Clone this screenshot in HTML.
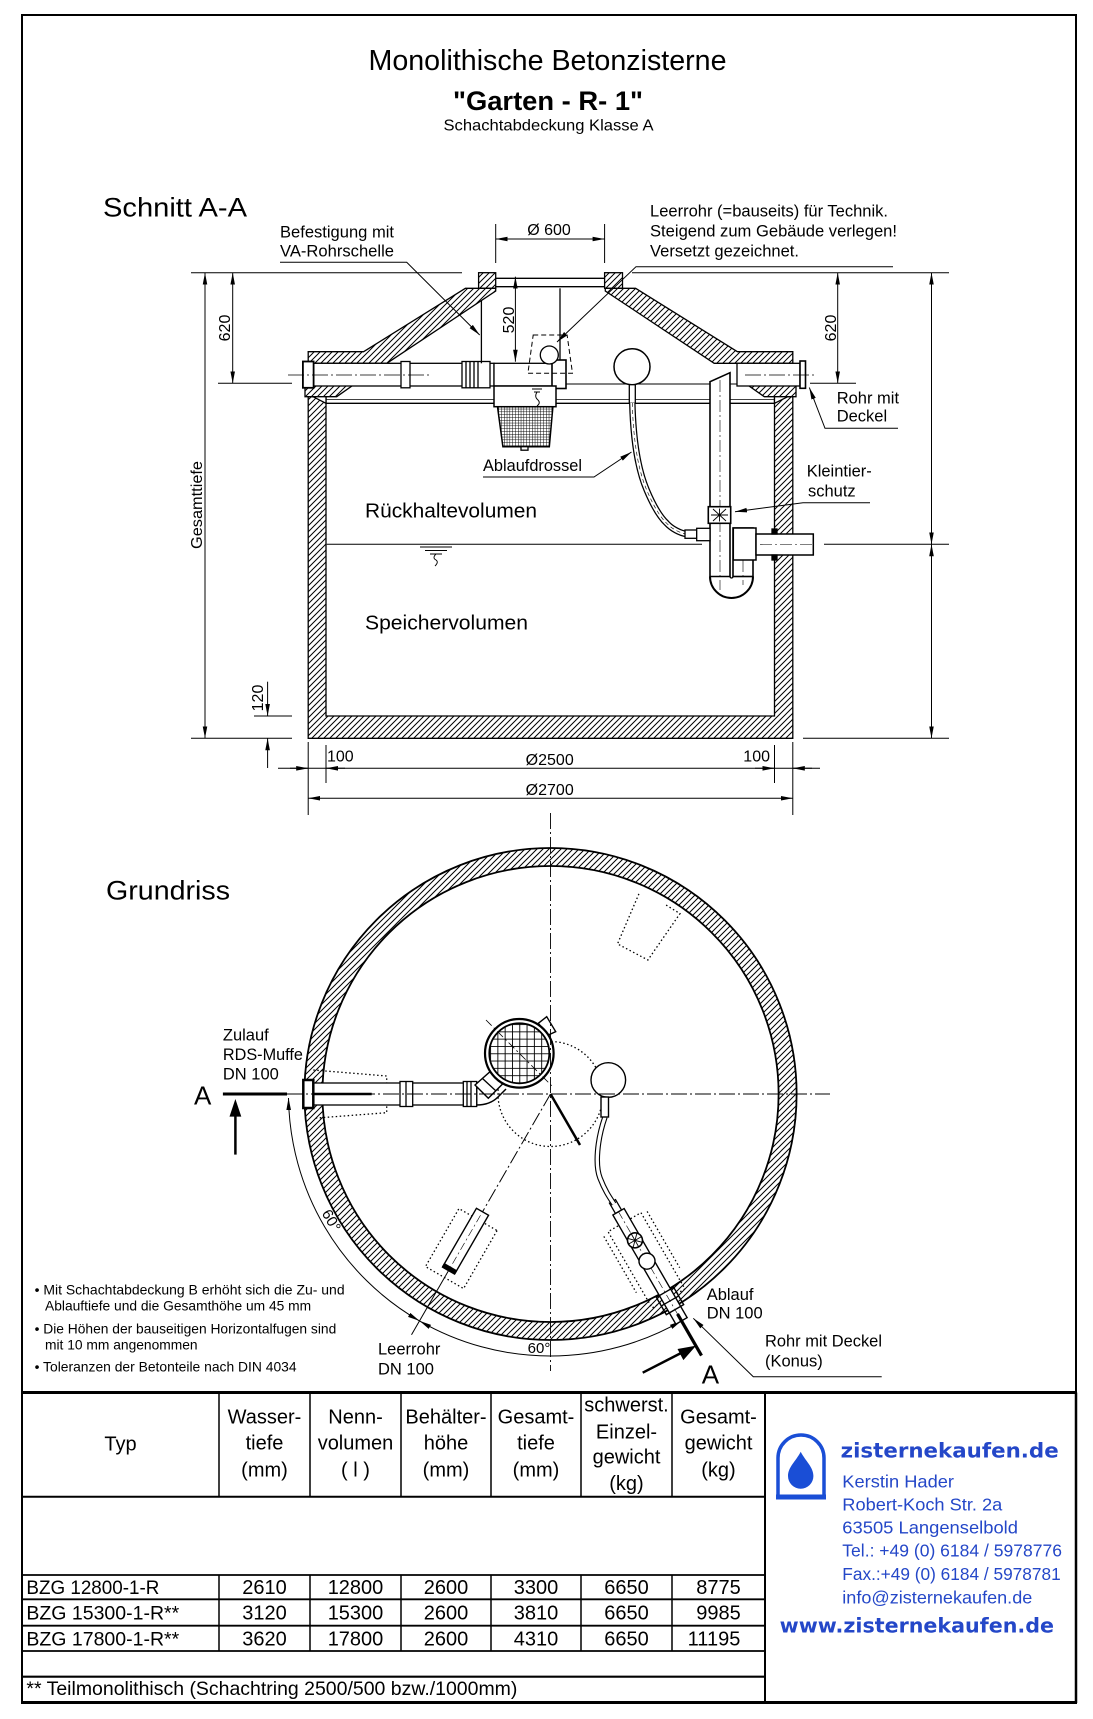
<!DOCTYPE html>
<html><head><meta charset="utf-8"><style>html,body{margin:0;padding:0;background:#fff}svg{display:block}</style></head>
<body>
<svg xmlns="http://www.w3.org/2000/svg" width="1093" height="1719" viewBox="0 0 1093 1719" font-family="'Liberation Sans', Arial, sans-serif" fill="#000">
<defs>
<pattern id="h" patternUnits="userSpaceOnUse" width="6" height="6"><path d="M0,6 L6,0 M-1,1 L1,-1 M5,7 L7,5" stroke="#000" stroke-width="1"/></pattern>
<pattern id="g1" patternUnits="userSpaceOnUse" width="2.8" height="2.8"><path d="M0,0 H2.8 M0,0 V2.8" stroke="#000" stroke-width="0.95"/></pattern>
<pattern id="g2" patternUnits="userSpaceOnUse" x="519.3" y="1053.3" width="7.3" height="7.3"><path d="M0,0 H7.3 M0,0 V7.3" stroke="#000" stroke-width="1.8"/></pattern>
<marker id="a" viewBox="0 0 12 6" refX="12" refY="3" markerWidth="12" markerHeight="6" markerUnits="userSpaceOnUse" orient="auto-start-reverse"><path d="M0,0.7 L12,3 L0,5.3 Z" fill="#000"/></marker>
</defs>

<!-- page border -->
<rect x="22" y="15" width="1054" height="1688" fill="none" stroke="#000" stroke-width="2"/>

<!-- titles -->
<text x="547.5" y="70" font-size="28.5" text-anchor="middle" textLength="358" lengthAdjust="spacingAndGlyphs">Monolithische Betonzisterne</text>
<text x="548" y="110" font-size="27" font-weight="bold" text-anchor="middle" textLength="190" lengthAdjust="spacingAndGlyphs">"Garten - R- 1"</text>
<text x="548.5" y="130.7" font-size="16" text-anchor="middle" textLength="210" lengthAdjust="spacingAndGlyphs">Schachtabdeckung Klasse A</text>
<text x="103" y="216.7" font-size="27" textLength="144" lengthAdjust="spacingAndGlyphs">Schnitt A-A</text>

<!-- ============ SECTION ============ -->
<g stroke="#000" stroke-width="1.3">
<rect x="478.6" y="272.7" width="17.1" height="15.6" fill="url(#h)"/>
<rect x="604.6" y="272.7" width="17.9" height="15.6" fill="url(#h)"/>
<line x1="495.7" y1="278.3" x2="604.6" y2="278.3"/>
<line x1="495.7" y1="286.7" x2="604.6" y2="286.7"/>
<polygon points="465.4,288.3 495.7,288.3 495.7,291 386.8,363.3 308.2,363.3 308.2,351.7 363.6,351.7" fill="url(#h)"/>
<polygon points="635.6,288.3 605.3,288.3 605.3,291 714.2,363.3 792.8,363.3 792.8,351.7 737.4,351.7" fill="url(#h)"/>
<polygon points="305,385 353.3,385 336.7,396.7 305,396.7" fill="url(#h)"/>
<polygon points="796,385 747.7,385 764.3,396.7 796,396.7" fill="url(#h)"/>
<polygon points="308.2,396.7 326,396.7 326,716 774.5,716 774.5,396.7 792.8,396.7 792.8,738.3 308.2,738.3" fill="url(#h)"/>
<polygon points="313,396.7 326,396.7 326,403.3" fill="#fff"/>
<polygon points="787.8,396.7 774.5,396.7 774.5,403.3" fill="#fff"/>
<line x1="326" y1="399.5" x2="774.5" y2="399.5" stroke-width="0.8"/>
<line x1="326" y1="403.3" x2="774.5" y2="403.3"/>
<line x1="494" y1="384" x2="737" y2="384" stroke-width="1"/>
<rect x="302.9" y="363.3" width="191.1" height="22.7" fill="#fff"/>
<rect x="302.9" y="361.5" width="10.7" height="26.3" fill="#fff" stroke-width="1.8"/>
<rect x="401" y="361.5" width="9" height="26.3" fill="#fff"/>
<rect x="462" y="361.5" width="28" height="26.3" fill="#fff"/>
<line x1="466" y1="361.5" x2="466" y2="387.8"/>
<line x1="470" y1="361.5" x2="470" y2="387.8"/>
<line x1="474" y1="361.5" x2="474" y2="387.8"/>
<line x1="478" y1="361.5" x2="478" y2="387.8"/>
<line x1="288" y1="375" x2="430" y2="375" stroke-width="0.7" stroke-dasharray="16 3 2 3"/>
<rect x="494" y="363.3" width="62" height="22.7" fill="#fff"/>
<rect x="552" y="360" width="14" height="28.5" fill="#fff" stroke-width="1.6"/>
<rect x="494" y="386" width="62" height="20.7" fill="#fff" stroke-width="1.5"/>
<polygon points="497.5,406.7 552.9,406.7 549.3,446.7 502.9,446.7" fill="url(#g1)" stroke-width="1.5"/>
<rect x="521" y="446.7" width="7" height="3.5" fill="#fff"/>
<path d="M532,389 h10 M534,392 h6 M537,392 q-3,5 1,8 q3,3 -1,6" fill="none" stroke-width="0.9"/>
<line x1="481.4" y1="300.5" x2="481.4" y2="363.3"/>
<line x1="560" y1="288.3" x2="560" y2="360"/>
<polygon points="533.2,335 567.1,335 572.5,373.3 527.9,373.3" fill="none" stroke-dasharray="5 3" stroke-width="1"/>
<circle cx="549.3" cy="355" r="9" fill="#fff"/>
<rect x="737" y="363.3" width="63" height="22.7" fill="#fff"/>
<rect x="800" y="361" width="5.5" height="27.3" fill="#fff" stroke-width="1.6"/>
<line x1="745" y1="375" x2="815" y2="375" stroke-width="0.7" stroke-dasharray="16 3 2 3"/>
<circle cx="632" cy="366.7" r="18" fill="#fff" stroke-width="1.5"/>
<rect x="629.3" y="384.7" width="6" height="18.6" fill="#fff"/>
<path d="M632.3,403 C633,430 636,465 646.7,490 C653,505 660,517 666.7,523.3 C672,529 680,533 686,534" fill="none" stroke-width="6.5"/>
<path d="M632.3,403 C633,430 636,465 646.7,490 C653,505 660,517 666.7,523.3 C672,529 680,533 686,534" fill="none" stroke="#fff" stroke-width="4"/>
<path d="M632.3,403 C633,430 636,465 646.7,490 C653,505 660,517 666.7,523.3 C672,529 680,533 686,534" fill="none" stroke-width="0.6" stroke-dasharray="4 3"/>
<polygon points="710,381.7 730,372.7 730,576.5 710,576.5" fill="#fff" stroke-width="1.6"/>
<line x1="720" y1="380" x2="720" y2="590" stroke-width="0.6" stroke-dasharray="12 3 2 3"/>
<rect x="733" y="528" width="20" height="48.5" fill="#fff" stroke-width="1.6"/>
<path d="M710,576.5 A21.5,21.5 0 0 0 753,576.5" fill="none" stroke-width="2"/>
<path d="M730,576.5 A1.5,1.5 0 0 0 733,576.5" fill="none"/>
<line x1="743" y1="540" x2="743" y2="585" stroke-width="0.6" stroke-dasharray="12 3 2 3"/>
<rect x="708.3" y="506.7" width="22.4" height="16.6" fill="#fff" stroke-width="1.6"/>
<path d="M711,515 h17 M719.5,508.5 v13 M713,509 l13,12 M726,509 l-13,12" stroke-width="0.9"/>
<rect x="685" y="530" width="11.7" height="8.3" fill="#fff"/>
<rect x="696.7" y="528.3" width="13.3" height="12.4" fill="#fff"/>
<rect x="733.3" y="528" width="22.7" height="32" fill="#fff" stroke-width="1.5"/>
<rect x="756" y="534" width="57.3" height="21" fill="#fff" stroke-width="1.5"/>
<rect x="772" y="529" width="5" height="5" fill="#000"/>
<rect x="772" y="555" width="5" height="5" fill="#000"/>
<line x1="760" y1="544.5" x2="813" y2="544.5" stroke-width="0.6" stroke-dasharray="12 3 2 3"/>
<line x1="326.7" y1="544.3" x2="702" y2="544.3" stroke-width="1"/>
<path d="M420,547 h32 M425,550.5 h22 M430,554 h12 M436,554 q-4,4 0,6 q3,2 -1,6" fill="none" stroke-width="0.9"/>
</g>

<g stroke="#000" stroke-width="1" fill="none">
<line x1="191" y1="272.7" x2="462" y2="272.7"/>
<line x1="632" y1="272.7" x2="949" y2="272.7"/>
<line x1="495.7" y1="224" x2="495.7" y2="263"/>
<line x1="604.6" y1="224" x2="604.6" y2="263"/>
<line x1="495.7" y1="239" x2="604.6" y2="239" marker-start="url(#a)" marker-end="url(#a)"/>
<line x1="515.4" y1="276.7" x2="515.4" y2="361.7" marker-start="url(#a)" marker-end="url(#a)"/>
<line x1="205" y1="272.7" x2="205" y2="738.3" marker-start="url(#a)" marker-end="url(#a)"/>
<line x1="232.7" y1="272.7" x2="232.7" y2="383.3" marker-start="url(#a)" marker-end="url(#a)"/>
<line x1="218" y1="383.3" x2="292" y2="383.3"/>
<line x1="254" y1="716" x2="292" y2="716"/>
<line x1="191" y1="738.3" x2="292" y2="738.3"/>
<line x1="267.6" y1="681.7" x2="267.6" y2="716" marker-end="url(#a)"/>
<line x1="267.6" y1="768" x2="267.6" y2="738.3" marker-end="url(#a)"/>
<line x1="837.7" y1="272.7" x2="837.7" y2="383.3" marker-start="url(#a)" marker-end="url(#a)"/>
<line x1="810" y1="383.3" x2="856" y2="383.3"/>
<line x1="931.5" y1="272.7" x2="931.5" y2="544.3" marker-start="url(#a)" marker-end="url(#a)"/>
<line x1="931.5" y1="544.3" x2="931.5" y2="738.3" marker-start="url(#a)" marker-end="url(#a)"/>
<line x1="824" y1="544.3" x2="949" y2="544.3"/>
<line x1="803" y1="738.3" x2="949" y2="738.3"/>
<line x1="308.2" y1="742" x2="308.2" y2="815"/>
<line x1="792.8" y1="742" x2="792.8" y2="815"/>
<line x1="326" y1="745" x2="326" y2="783"/>
<line x1="774.5" y1="745" x2="774.5" y2="783"/>
<line x1="278" y1="768.3" x2="820" y2="768.3"/>
<line x1="290" y1="768.3" x2="308.2" y2="768.3" marker-end="url(#a)"/>
<line x1="345" y1="768.3" x2="326" y2="768.3" marker-end="url(#a)"/>
<line x1="755" y1="768.3" x2="774.5" y2="768.3" marker-end="url(#a)"/>
<line x1="812" y1="768.3" x2="792.8" y2="768.3" marker-end="url(#a)"/>
<line x1="308.2" y1="798.3" x2="792.8" y2="798.3" marker-start="url(#a)" marker-end="url(#a)"/>
<polyline points="280,262.3 406.7,262.3 479.7,335" marker-end="url(#a)"/>
<polyline points="893,266.7 636,266.7 557,342" marker-end="url(#a)"/>
<polyline points="898,428.3 825,428.3 809.3,387.5" marker-end="url(#a)"/>
<polyline points="483,477 594,477 631.5,452" marker-end="url(#a)"/>
<polyline points="870,502.7 803,502.7 735,511.7" marker-end="url(#a)"/>
</g>

<g font-size="16.5">
<text x="280" y="237.3" textLength="114" lengthAdjust="spacingAndGlyphs">Befestigung mit</text>
<text x="280" y="256.7" textLength="114" lengthAdjust="spacingAndGlyphs">VA-Rohrschelle</text>
<text x="549" y="235" text-anchor="middle" font-size="16">Ø 600</text>
<text x="650" y="216.7" textLength="238" lengthAdjust="spacingAndGlyphs">Leerrohr (=bauseits) für Technik.</text>
<text x="650" y="236.7" textLength="247" lengthAdjust="spacingAndGlyphs">Steigend zum Gebäude verlegen!</text>
<text x="650" y="256.7" textLength="149" lengthAdjust="spacingAndGlyphs">Versetzt gezeichnet.</text>
<text x="836.7" y="403.3">Rohr mit</text>
<text x="836.7" y="421.7">Deckel</text>
<text x="483" y="471" textLength="99" lengthAdjust="spacingAndGlyphs">Ablaufdrossel</text>
<text x="806.7" y="476.7">Kleintier-</text>
<text x="808" y="496.7">schutz</text>
<text x="365" y="517.3" font-size="20.5" textLength="172" lengthAdjust="spacingAndGlyphs">Rückhaltevolumen</text>
<text x="365" y="629.3" font-size="20.5" textLength="163" lengthAdjust="spacingAndGlyphs">Speichervolumen</text>
<text transform="translate(230,328) rotate(-90)" text-anchor="middle" font-size="16">620</text>
<text transform="translate(836,328) rotate(-90)" text-anchor="middle" font-size="16">620</text>
<text transform="translate(514,320) rotate(-90)" text-anchor="middle" font-size="16">520</text>
<text transform="translate(263,698) rotate(-90)" text-anchor="middle" font-size="16">120</text>
<text transform="translate(202,505) rotate(-90)" text-anchor="middle" font-size="16" textLength="88" lengthAdjust="spacingAndGlyphs">Gesamttiefe</text>
<text x="327" y="761.7" font-size="16">100</text>
<text x="770" y="761.7" font-size="16" text-anchor="end">100</text>
<text x="549.7" y="765" font-size="16" text-anchor="middle">Ø2500</text>
<text x="549.7" y="795" font-size="16" text-anchor="middle">Ø2700</text>
</g>

<!-- ============ GRUNDRISS ============ -->
<text x="106" y="899.6" font-size="27" textLength="124" lengthAdjust="spacingAndGlyphs">Grundriss</text>
<g stroke="#000" stroke-width="1.3">
<path d="M550.5,848 A246,246 0 1,0 550.5,1340 A246,246 0 1,0 550.5,848 Z M550.5,866 A228,228 0 1,0 550.5,1322 A228,228 0 1,0 550.5,866 Z" fill="url(#h)" fill-rule="evenodd" stroke-width="1.8"/>
<g fill="none" stroke-dasharray="1.5 2.5" stroke-width="1.3">
<polyline points="313.3,1070 386.7,1076 386.7,1112.7 313.3,1118.3"/>
<circle cx="550.5" cy="1094" r="52.5"/>
<polyline points="638.9,893.9 617.5,943.9 647.9,960 680,913.6 666,905"/>
</g>
<path d="M288.5,1098 A262,262 0 0 0 419.5,1320.9" fill="none" stroke-width="1" marker-start="url(#a)" marker-end="url(#a)"/>
<path d="M419.5,1320.9 A262,262 0 0 0 681.5,1320.9" fill="none" stroke-width="1" marker-start="url(#a)" marker-end="url(#a)"/>
<g transform="translate(550.5,1094) rotate(120)">
<line x1="0" y1="0" x2="210" y2="0" stroke-width="1" stroke-dasharray="14 3 2 3"/>
<line x1="210" y1="0" x2="278" y2="0" stroke-width="1"/>
<rect x="145" y="-22" width="67" height="44" fill="none" stroke-dasharray="1.5 2.5"/>
<rect x="136" y="-7" width="67" height="14" fill="#fff" stroke-width="1.4"/>
<rect x="200" y="-7" width="4" height="14" fill="#000"/>
<line x1="140" y1="0" x2="200" y2="0" stroke-width="0.6" stroke-dasharray="8 3 2 3"/>
</g>
<g transform="translate(550.5,1094) rotate(60)">
<rect x="148" y="-19" width="88" height="38" fill="none" stroke-dasharray="1.5 2.5"/>
<line x1="150" y1="-25" x2="215" y2="-25" stroke-dasharray="1.5 2.5"/>
<line x1="150" y1="25" x2="215" y2="25" stroke-dasharray="1.5 2.5"/>
<rect x="124" y="-3.5" width="12" height="7" fill="#fff"/>
<rect x="136" y="-6.5" width="126" height="13" fill="#fff" stroke-width="1.4"/>
<line x1="136" y1="0" x2="262" y2="0" stroke-width="0.6" stroke-dasharray="8 3 2 3"/>
<circle cx="169" cy="0" r="7.5" fill="#fff" stroke-width="1.6"/>
<path d="M161.5,0 h15 M169,-7.5 v15 M163.7,-5.3 l10.6,10.6 M174.3,-5.3 l-10.6,10.6" stroke-width="0.9"/>
<circle cx="193" cy="0" r="8" fill="#fff" stroke-width="1.4"/>
<rect x="229" y="-10" width="20" height="20" fill="none" stroke-width="1.4"/>
<line x1="239" y1="-10" x2="239" y2="10"/>
<line x1="254" y1="0" x2="302" y2="0" stroke-width="3.2"/>
</g>
<rect x="303.3" y="1083" width="173.4" height="22" fill="#fff"/>
<rect x="303.3" y="1080" width="10" height="28" fill="#fff" stroke-width="2.5"/>
<line x1="313.3" y1="1094" x2="371.7" y2="1094" stroke-width="2.5"/>
<rect x="400" y="1081.5" width="12.7" height="25" fill="#fff"/>
<line x1="406" y1="1081.5" x2="406" y2="1106.5"/>
<rect x="463.3" y="1081.5" width="13.4" height="25" fill="#fff"/>
<line x1="467" y1="1081.5" x2="467" y2="1106.5"/>
<line x1="471" y1="1081.5" x2="471" y2="1106.5"/>
<path d="M476.7,1105 Q490,1105 498,1097 L506,1089" fill="none" stroke-width="1.5"/>
<polygon points="475,1085 490,1071.7 503.3,1083.3 488.3,1098.3" fill="#fff" stroke-width="1.4"/>
<line x1="482.5" y1="1078.5" x2="496" y2="1091"/>
<line x1="550.5" y1="1094" x2="580" y2="1145" stroke-width="2.5"/>
<polygon points="538.3,1023.3 546.7,1016.7 555.7,1031.7 548.3,1035" fill="#fff" stroke-width="1.4"/>
<circle cx="519.3" cy="1053.3" r="34.3" fill="#fff" stroke-width="2.2"/>
<circle cx="519.3" cy="1053.3" r="30" fill="url(#g2)" stroke-width="1.8"/>
<line x1="486" y1="1020" x2="552" y2="1086" stroke-width="0.8" stroke-dasharray="8 3 2 3"/>
<circle cx="608.3" cy="1080" r="17.3" fill="#fff" stroke-width="1.4"/>
<path d="M605,1117 C597,1140 595,1165 600,1178 S610,1198 614,1204" fill="none" stroke-width="5.5"/>
<path d="M605,1117 C597,1140 595,1165 600,1178 S610,1198 614,1204" fill="none" stroke="#fff" stroke-width="3.3"/>
<rect x="601" y="1097" width="7.5" height="20" fill="#fff" stroke-width="1.4"/>
<line x1="550.5" y1="813" x2="550.5" y2="1371" stroke-width="0.9" stroke-dasharray="16 3 2 3"/>
<line x1="287" y1="1094" x2="830" y2="1094" stroke-width="0.9" stroke-dasharray="16 3 2 3"/>
<line x1="222.9" y1="1094" x2="287" y2="1094" stroke-width="3"/>
<line x1="235.4" y1="1154.6" x2="235.4" y2="1112" stroke-width="2.5"/>
<polygon points="235.4,1101 230.4,1116 240.4,1116" fill="#000"/>
<line x1="642.7" y1="1372.7" x2="684" y2="1351.5" stroke-width="2.5"/>
<polygon points="694.3,1346.7 678.5,1349.5 683.5,1359" fill="#000"/>
<polyline points="881.7,1376.7 753.3,1376.7 693.3,1318.3" fill="none" stroke-width="1" marker-end="url(#a)"/>
</g>

<g font-size="16.5">
<text x="222.9" y="1040.4">Zulauf</text>
<text x="222.9" y="1060" textLength="80" lengthAdjust="spacingAndGlyphs">RDS-Muffe</text>
<text x="222.9" y="1079.6">DN 100</text>
<text x="194" y="1104.6" font-size="26">A</text>
<text x="701.7" y="1383.3" font-size="26">A</text>
<text x="706.7" y="1300">Ablauf</text>
<text x="706.7" y="1318.3">DN 100</text>
<text x="765" y="1346.7" textLength="117" lengthAdjust="spacingAndGlyphs">Rohr mit Deckel</text>
<text x="765" y="1366.7">(Konus)</text>
<text x="378" y="1354.6">Leerrohr</text>
<text x="378" y="1374.3">DN 100</text>
<text transform="translate(327,1223) rotate(60)" text-anchor="middle" font-size="15">60°</text>
<text x="539" y="1352.9" text-anchor="middle" font-size="15">60°</text>
</g>

<g font-size="13.8">
<text x="34.6" y="1294.3" textLength="310" lengthAdjust="spacingAndGlyphs">• Mit Schachtabdeckung B erhöht sich  die Zu- und</text>
<text x="45" y="1310.4">Ablauftiefe und die Gesamthöhe  um 45 mm</text>
<text x="34.6" y="1333.6">• Die Höhen der bauseitigen Horizontalfugen  sind</text>
<text x="45" y="1349.6">mit 10 mm angenommen</text>
<text x="34.6" y="1371.5" textLength="262" lengthAdjust="spacingAndGlyphs">• Toleranzen der Betonteile nach DIN 4034</text>
</g>

<!-- ============ TABLE ============ -->
<g stroke="#000" fill="none">
<line x1="22" y1="1392.5" x2="1076" y2="1392.5" stroke-width="3"/>
<line x1="765" y1="1392.5" x2="765" y2="1703" stroke-width="2"/>
<line x1="22" y1="1496.7" x2="765" y2="1496.7" stroke-width="2"/>
<line x1="22" y1="1575" x2="765" y2="1575" stroke-width="1.8"/>
<line x1="22" y1="1599.3" x2="765" y2="1599.3" stroke-width="1.8"/>
<line x1="22" y1="1625.7" x2="765" y2="1625.7" stroke-width="1.8"/>
<line x1="22" y1="1651" x2="765" y2="1651" stroke-width="1.8"/>
<line x1="22" y1="1676.7" x2="765" y2="1676.7" stroke-width="2.2"/>
<line x1="22" y1="1702.5" x2="1076" y2="1702.5" stroke-width="3"/>
<line x1="1076" y1="1392.5" x2="1076" y2="1703" stroke-width="2.5"/>
<g stroke-width="1.5">
<line x1="219" y1="1392.5" x2="219" y2="1496.7"/><line x1="310" y1="1392.5" x2="310" y2="1496.7"/>
<line x1="401" y1="1392.5" x2="401" y2="1496.7"/><line x1="491" y1="1392.5" x2="491" y2="1496.7"/>
<line x1="581" y1="1392.5" x2="581" y2="1496.7"/><line x1="672" y1="1392.5" x2="672" y2="1496.7"/>
<line x1="219" y1="1575" x2="219" y2="1651"/><line x1="310" y1="1575" x2="310" y2="1651"/>
<line x1="401" y1="1575" x2="401" y2="1651"/><line x1="491" y1="1575" x2="491" y2="1651"/>
<line x1="581" y1="1575" x2="581" y2="1651"/><line x1="672" y1="1575" x2="672" y2="1651"/>
</g>
</g>

<g font-size="20" text-anchor="middle">
<text x="120.5" y="1450.5">Typ</text>
<text x="264.5" y="1423.3">Wasser-</text><text x="264.5" y="1449.3">tiefe</text><text x="264.5" y="1476.7">(mm)</text>
<text x="355.5" y="1423.3">Nenn-</text><text x="355.5" y="1449.3">volumen</text><text x="355.5" y="1476.7">( l )</text>
<text x="446" y="1423.3">Behälter-</text><text x="446" y="1449.3">höhe</text><text x="446" y="1476.7">(mm)</text>
<text x="536" y="1423.3">Gesamt-</text><text x="536" y="1449.3">tiefe</text><text x="536" y="1476.7">(mm)</text>
<text x="626.5" y="1411.7">schwerst.</text><text x="626.5" y="1438.3">Einzel-</text><text x="626.5" y="1463.3">gewicht</text><text x="626.5" y="1490">(kg)</text>
<text x="718.5" y="1423.3">Gesamt-</text><text x="718.5" y="1449.3">gewicht</text><text x="718.5" y="1476.7">(kg)</text>

<text x="264.5" y="1594">2610</text><text x="355.5" y="1594">12800</text><text x="446" y="1594">2600</text><text x="536" y="1594">3300</text><text x="626.5" y="1594">6650</text><text x="718.5" y="1594">8775</text>
<text x="264.5" y="1619.5">3120</text><text x="355.5" y="1619.5">15300</text><text x="446" y="1619.5">2600</text><text x="536" y="1619.5">3810</text><text x="626.5" y="1619.5">6650</text><text x="718.5" y="1619.5">9985</text>
<text x="264.5" y="1645.5">3620</text><text x="355.5" y="1645.5">17800</text><text x="446" y="1645.5">2600</text><text x="536" y="1645.5">4310</text><text x="626.5" y="1645.5">6650</text><text x="714" y="1645.5">11195</text>
</g>
<g font-size="19.5">
<text x="26.4" y="1594" textLength="133" lengthAdjust="spacingAndGlyphs">BZG 12800-1-R</text>
<text x="26.4" y="1619.5">BZG 15300-1-R**</text>
<text x="26.4" y="1645.5">BZG 17800-1-R**</text>
<text x="26.4" y="1695" textLength="491" lengthAdjust="spacingAndGlyphs">** Teilmonolithisch (Schachtring 2500/500 bzw./1000mm)</text>
</g>

<!-- logo -->
<path d="M778,1497 L778,1458 A23,23 0 0 1 824,1458 L824,1497" fill="none" stroke="#1a4ed6" stroke-width="3.5"/>
<line x1="776" y1="1497" x2="826" y2="1497" stroke="#1a4ed6" stroke-width="5"/>
<path d="M800.7,1451.7 C796,1461 788,1467 788,1476 A12.7,12.7 0 0 0 813.4,1476 C813.4,1467 805.5,1461 800.7,1451.7 Z" fill="#1a4ed6"/>
<text x="840.7" y="1457.3" font-family="'DejaVu Sans', Verdana, sans-serif" font-weight="bold" font-size="20" fill="#2447c8" textLength="218" lengthAdjust="spacingAndGlyphs">zisternekaufen.de</text>
<g fill="#2447c8" font-size="17.5">
<text x="842.3" y="1487.3" textLength="111.7" lengthAdjust="spacingAndGlyphs">Kerstin Hader</text>
<text x="842.3" y="1510.7" textLength="160" lengthAdjust="spacingAndGlyphs">Robert-Koch Str. 2a</text>
<text x="842.3" y="1533.3" textLength="175.7" lengthAdjust="spacingAndGlyphs">63505 Langenselbold</text>
<text x="842.3" y="1556.7" textLength="219.7" lengthAdjust="spacingAndGlyphs">Tel.: +49 (0) 6184 / 5978776</text>
<text x="842.3" y="1580" textLength="218.4" lengthAdjust="spacingAndGlyphs">Fax.:+49 (0) 6184 / 5978781</text>
<text x="842.3" y="1603.3" textLength="190" lengthAdjust="spacingAndGlyphs">info@zisternekaufen.de</text>
</g>
<text x="779.7" y="1632.3" font-family="'DejaVu Sans', Verdana, sans-serif" font-weight="bold" font-size="20" fill="#2447c8" textLength="274.3" lengthAdjust="spacingAndGlyphs">www.zisternekaufen.de</text>
</svg>
</body></html>
